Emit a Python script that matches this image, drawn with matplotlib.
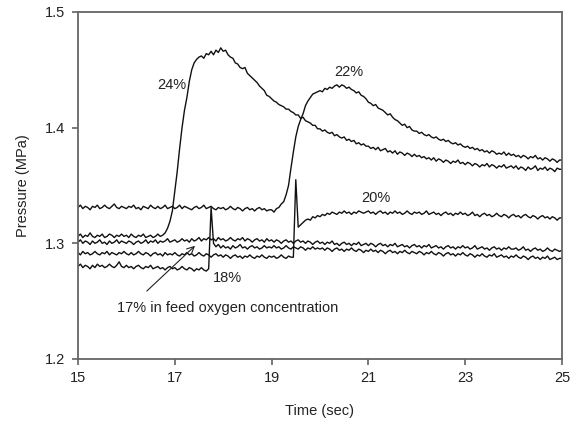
import numpy as np
import matplotlib
matplotlib.use("Agg")
import matplotlib.pyplot as plt

plt.rcParams['font.family'] = ['Liberation Sans', 'DejaVu Sans']

# sampling grid, 0.05 s from 15 to 25 s
t = np.arange(300, 501) / 20.0

# pressure traces in 1e-3 MPa, one row per second
p24 = [
    1306, 1308, 1305, 1307, 1306, 1309, 1306, 1305, 1307, 1306, 1308, 1305, 1306, 1308, 1307, 1305, 1307, 1306, 1308, 1306,
    1307, 1305, 1308, 1306, 1305, 1307, 1306, 1308, 1305, 1306, 1307, 1305, 1306, 1308, 1306, 1307, 1309, 1313, 1319, 1328,
    1345, 1362, 1382, 1400, 1415, 1426, 1440, 1450, 1456, 1459, 1461, 1462, 1460, 1464, 1463, 1466, 1463, 1467, 1465, 1469,
    1466, 1467, 1463, 1461, 1460, 1456, 1455, 1452, 1451, 1452, 1447, 1445, 1443, 1441, 1439, 1436, 1434, 1432, 1428, 1427,
    1425, 1423, 1422, 1420, 1419, 1418, 1416, 1416, 1414, 1413, 1411, 1411, 1408, 1409, 1406, 1405, 1404, 1402, 1402, 1399,
    1399, 1397, 1398, 1396, 1395, 1396, 1393, 1394, 1392, 1391, 1392, 1389, 1390, 1388, 1389, 1386, 1387, 1385, 1386, 1384,
    1384, 1382, 1383, 1381, 1383, 1380, 1381, 1382, 1379, 1380, 1378, 1380, 1377, 1379, 1378, 1376, 1378, 1377, 1375, 1377,
    1375, 1376, 1374, 1375, 1373, 1374, 1372, 1374, 1371, 1373, 1372, 1370, 1372, 1371, 1369, 1371, 1370, 1372, 1369, 1370,
    1368, 1370, 1369, 1367, 1369, 1368, 1366, 1368, 1367, 1369, 1366, 1368, 1367, 1365, 1367, 1366, 1368, 1365, 1366, 1367,
    1365, 1367, 1364, 1366, 1365, 1363, 1366, 1364, 1365, 1367, 1363, 1365, 1364, 1366, 1363, 1365, 1364, 1362, 1365, 1364,
    1364,
]
p22 = [
    1331, 1333, 1330, 1332, 1331, 1329, 1332, 1331, 1333, 1330, 1331, 1333, 1331, 1330, 1332, 1334, 1331, 1330, 1332, 1331,
    1330, 1332, 1331, 1333, 1330, 1331, 1329, 1332, 1331, 1330, 1333, 1331, 1330, 1332, 1330, 1331, 1333, 1330, 1331, 1332,
    1330, 1331, 1333, 1330, 1332, 1331, 1330, 1329, 1331, 1332, 1330, 1331, 1333, 1330, 1331, 1332, 1330, 1329, 1331, 1330,
    1331, 1329, 1330, 1332, 1330, 1329, 1331, 1330, 1328, 1330, 1331, 1329, 1330, 1328, 1330, 1331, 1329, 1330, 1328, 1329,
    1329, 1327, 1330, 1331, 1334, 1336, 1342, 1350, 1365, 1379, 1392, 1401, 1407, 1412, 1419, 1423, 1426, 1429, 1430, 1431,
    1432, 1431, 1434, 1433, 1435, 1434, 1436, 1437, 1435, 1437, 1436, 1434, 1435, 1433, 1432, 1430, 1431, 1428, 1427, 1425,
    1422, 1421, 1419, 1420, 1417, 1416, 1415, 1413, 1411, 1412, 1409, 1407, 1406, 1404, 1402, 1403, 1400, 1401, 1398, 1397,
    1397, 1395, 1396, 1394, 1393, 1394, 1392, 1391, 1392, 1390, 1389, 1390, 1388, 1389, 1387, 1386, 1387, 1385, 1386, 1384,
    1383, 1384, 1382, 1383, 1381, 1382, 1380, 1381, 1379, 1380, 1378, 1380, 1379, 1377, 1378, 1377, 1379, 1376, 1378, 1376,
    1377, 1375, 1376, 1374, 1376, 1375, 1373, 1375, 1374, 1376, 1373, 1374, 1372, 1374, 1373, 1371, 1373, 1372, 1370, 1372,
    1372,
]
p20 = [
    1292, 1290, 1293, 1291, 1292, 1290, 1291, 1293, 1291, 1290, 1292, 1291, 1293, 1290, 1292, 1291, 1290, 1292, 1291, 1293,
    1291, 1290, 1292, 1290, 1291, 1293, 1291, 1290, 1292, 1291, 1289, 1291, 1292, 1290, 1291, 1289, 1292, 1290, 1291, 1290,
    1292, 1290, 1289, 1291, 1290, 1292, 1290, 1291, 1289, 1290, 1292, 1290, 1289, 1291, 1290, 1288, 1290, 1291, 1289, 1290,
    1288, 1290, 1289, 1287, 1289, 1290, 1288, 1289, 1287, 1289, 1288, 1290, 1288, 1287, 1289, 1288, 1290, 1288, 1287, 1289,
    1288, 1289, 1287, 1288, 1290, 1288, 1287, 1289, 1288, 1288, 1355, 1314, 1316, 1318, 1320, 1321, 1320, 1323, 1322, 1324,
    1323, 1325, 1324, 1326, 1325, 1327, 1326, 1325, 1327, 1326, 1328, 1326, 1327, 1325, 1327, 1326, 1328, 1327, 1326, 1327,
    1328, 1326, 1327, 1325, 1327, 1328, 1326, 1327, 1325, 1327, 1326, 1328, 1326, 1327, 1325, 1326, 1328, 1326, 1325, 1327,
    1326, 1327, 1325, 1326, 1328, 1325, 1326, 1327, 1325, 1326, 1324, 1326, 1327, 1325, 1326, 1324, 1326, 1325, 1327, 1325,
    1326, 1324, 1325, 1327, 1324, 1325, 1323, 1325, 1326, 1324, 1325, 1323, 1324, 1326, 1324, 1323, 1325, 1324, 1322, 1324,
    1325, 1323, 1324, 1322, 1324, 1325, 1323, 1322, 1324, 1323, 1321, 1323, 1324, 1322, 1323, 1321, 1323, 1322, 1320, 1322,
    1322,
]
p18 = [
    1280, 1282, 1279, 1281, 1280, 1278, 1281, 1279, 1282, 1280, 1281, 1279, 1280, 1282, 1280, 1279, 1281, 1284, 1280, 1279,
    1281, 1279, 1280, 1278, 1280, 1281, 1279, 1278, 1280, 1279, 1281, 1278, 1279, 1280, 1278, 1279, 1277, 1279, 1280, 1278,
    1279, 1277, 1278, 1280, 1278, 1277, 1279, 1278, 1276, 1278, 1277, 1279, 1277, 1276, 1278, 1331, 1300, 1297, 1299, 1296,
    1298, 1296, 1297, 1295, 1298, 1296, 1297, 1299, 1296, 1297, 1295, 1297, 1298, 1296, 1297, 1295, 1296, 1298, 1296, 1297,
    1296, 1298, 1296, 1297, 1295, 1296, 1298, 1296, 1295, 1297, 1296, 1295, 1297, 1296, 1294, 1296, 1295, 1297, 1295, 1296,
    1295, 1296, 1294, 1296, 1295, 1293, 1295, 1296, 1294, 1295, 1293, 1295, 1294, 1296, 1294, 1293, 1295, 1294, 1292, 1294,
    1293, 1295, 1293, 1294, 1292, 1294, 1293, 1291, 1293, 1294, 1292, 1293, 1291, 1293, 1292, 1294, 1292, 1291, 1293, 1292,
    1291, 1293, 1292, 1290, 1292, 1291, 1293, 1291, 1290, 1292, 1291, 1289, 1291, 1292, 1290, 1291, 1289, 1291, 1290, 1292,
    1290, 1289, 1291, 1290, 1288, 1290, 1289, 1291, 1289, 1288, 1290, 1289, 1291, 1288, 1289, 1290, 1288, 1289, 1287, 1289,
    1288, 1290, 1288, 1287, 1289, 1288, 1286, 1288, 1289, 1287, 1288, 1286, 1288, 1287, 1289, 1286, 1287, 1288, 1286, 1287,
    1287,
]
p17 = [
    1301, 1303, 1300, 1302, 1301, 1299, 1302, 1300, 1301, 1303, 1300, 1301, 1299, 1302, 1300, 1301, 1303, 1300, 1302, 1301,
    1300, 1302, 1301, 1299, 1301, 1302, 1300, 1301, 1303, 1300, 1302, 1301, 1303, 1300, 1302, 1301, 1302, 1304, 1301, 1302,
    1303, 1301, 1302, 1304, 1302, 1303, 1301, 1304, 1302, 1303, 1305, 1302, 1304, 1303, 1305, 1303, 1304, 1302, 1305, 1303,
    1304, 1302, 1303, 1305, 1303, 1302, 1304, 1303, 1305, 1302, 1304, 1303, 1301, 1303, 1304, 1302, 1303, 1301, 1304, 1302,
    1303, 1301, 1303, 1302, 1300, 1302, 1303, 1301, 1302, 1300, 1302, 1303, 1301, 1302, 1300, 1302, 1301, 1299, 1301, 1302,
    1300, 1301, 1299, 1301, 1300, 1302, 1299, 1300, 1298, 1300, 1301, 1299, 1300, 1298, 1300, 1299, 1301, 1298, 1299, 1300,
    1298, 1300, 1299, 1297, 1299, 1300, 1298, 1299, 1297, 1299, 1298, 1300, 1297, 1298, 1299, 1297, 1298, 1296, 1298, 1299,
    1297, 1298, 1296, 1298, 1297, 1299, 1296, 1297, 1298, 1296, 1297, 1295, 1297, 1298, 1296, 1297, 1295, 1297, 1296, 1298,
    1296, 1297, 1295, 1296, 1298, 1295, 1296, 1297, 1295, 1296, 1294, 1296, 1297, 1295, 1296, 1294, 1296, 1295, 1297, 1295,
    1295, 1296, 1294, 1295, 1297, 1294, 1295, 1293, 1295, 1296, 1294, 1295, 1293, 1294, 1296, 1294, 1293, 1295, 1294, 1293,
    1294,
]

series = [p24, p22, p20, p18, p17]
for s in series:
    assert len(s) == len(t)

xticks = [15, 17, 19, 21, 23, 25]
yticks = [1.2, 1.3, 1.4, 1.5]

fig = plt.figure(figsize=(5.73, 4.22), dpi=100)
ax = fig.add_axes([0.1361, 0.1493, 0.8447, 0.8223])

for s in series:
    ax.plot(t, np.array(s) / 1000.0, color='#111111', lw=1.0)

ax.set_xlim(15, 25)
ax.set_ylim(1.2, 1.5)
ax.set_xticks(xticks)
ax.set_xticklabels([str(v) for v in xticks])
ax.set_yticks(yticks)
ax.set_yticklabels(['%.1f' % v for v in yticks])
ax.tick_params(direction='out', length=4, width=1.1, color='#555555',
               labelsize=10.5, labelcolor='#222222', pad=5)
for sp in ax.spines.values():
    sp.set_color('#666666')
    sp.set_linewidth(1.3)

ax.set_xlabel('Time (sec)', fontsize=10.5, color='#222222', labelpad=13)
ax.set_ylabel('Pressure (MPa)', fontsize=10.5, color='#222222', labelpad=11)

# curve labels
tc = '#222222'
ax.text(16.94, 1.437, '24%', ha='center', va='center', fontsize=10.5, color=tc)
ax.text(20.60, 1.448, '22%', ha='center', va='center', fontsize=10.5, color=tc)
ax.text(21.16, 1.339, '20%', ha='center', va='center', fontsize=10.5, color=tc)
ax.text(17.79, 1.270, '18%', ha='left', va='center', fontsize=10.5, color=tc)
ax.text(15.81, 1.244, '17% in feed oxygen concentration', ha='left', va='center',
        fontsize=10.5, color=tc)
ax.annotate('', xy=(17.46, 1.2995), xytext=(16.38, 1.2571),
            arrowprops=dict(arrowstyle='->,head_length=0.5,head_width=0.25',
                            lw=0.8, color=tc))

fig.savefig('out.png', dpi=100)
